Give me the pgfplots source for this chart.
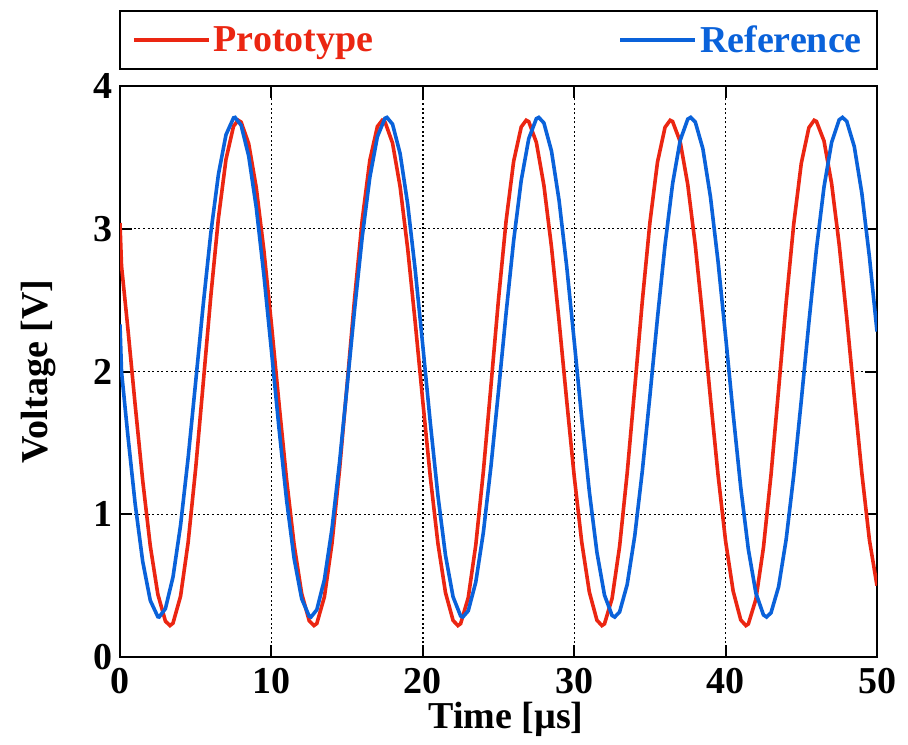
\documentclass[border=0pt]{standalone}
\usepackage{fontspec}
\setmainfont{Liberation Serif}
\usepackage{pgfplots}
\pgfplotsset{compat=1.18}

\definecolor{protored}{RGB}{235,38,18}
\definecolor{refblue}{RGB}{10,98,218}

\newcommand{\lblfont}{\fontsize{19}{22}\selectfont\bfseries}

\begin{document}
\begin{tikzpicture}
\begin{axis}[
  name=ax,
  scale only axis,
  width=378.5pt, height=285.5pt,
  xmin=0, xmax=50, ymin=0, ymax=4,
  xtick={0,10,...,50}, ytick={0,1,2,3,4},
  xtick pos=both, ytick pos=both,
  tick align=inside,
  major tick length=6pt,
  tick style={black, line width=1pt},
  axis line style={black, line width=1pt},
  grid=major,
  major grid style={black, line width=0.7pt, dash pattern=on 1pt off 1.3pt},
  /pgf/number format/assume math mode=true,
  tick label style={font=\lblfont},
  xticklabel style={yshift=-2pt},
  xlabel={Time [µs]},
  ylabel={Voltage [V]},
  label style={font=\lblfont},
  xlabel style={at={(axis description cs:0.51,-0.11)}, anchor=center},
  ylabel style={at={(axis description cs:-0.107,0.5)}, anchor=center},
  legend columns=2,
  legend cell align=left,
  legend image code/.code={\draw[#1] (0pt,0pt) -- (37.5pt,0pt);},
  legend style={
    at={(axis description cs:0.5,1.028)}, anchor=south,
    draw=black, line width=1pt,
    inner xsep=6pt, inner ysep=6pt,
    font=\lblfont,
    nodes={inner xsep=1.5pt, inner ysep=1pt},
    /tikz/every even column/.append style={column sep=121pt},
  },
]

% Prototype output (red)
\addplot[protored, line width=1.8pt] coordinates {
(0,3.04) (0.1,2.74) (0.5,2.322) (1.0,1.768) (1.5,1.236) (2.0,0.778) (2.5,0.439)
(3.0,0.251) (3.3,0.22) (3.5,0.237) (4.0,0.426) (4.5,0.803) (5.0,1.323)
(5.5,1.922) (6.0,2.530) (6.5,3.073) (7.0,3.486) (7.5,3.719) (7.81,3.76)
(8.0,3.747) (8.5,3.596) (9.0,3.288) (9.5,2.852) (10.0,2.333) (10.5,1.779)
(11.0,1.246) (11.5,0.787) (12.0,0.444) (12.5,0.253) (12.81,0.22)
(13.0,0.235) (13.5,0.421) (14.0,0.794) (14.5,1.311) (15.0,1.910)
(15.5,2.518) (16.0,3.063) (16.5,3.479) (17.0,3.716) (17.32,3.76)
(17.5,3.749) (18.0,3.601) (18.5,3.295) (19.0,2.862) (19.5,2.343)
(20.0,1.790) (20.5,1.257) (21.0,0.795) (21.5,0.450) (22.0,0.256) (22.32,0.22)
(22.5,0.234) (23.0,0.415) (23.5,0.785) (24.0,1.300) (24.5,1.898)
(25.0,2.506) (25.5,3.053) (26.0,3.472) (26.5,3.713) (26.83,3.76)
(27.0,3.750) (27.5,3.605) (28.0,3.303) (28.5,2.872) (29.0,2.354)
(29.5,1.801) (30.0,1.267) (30.5,0.803) (31.0,0.455) (31.5,0.258) (31.83,0.22)
(32.0,0.232) (32.5,0.409) (33.0,0.776) (33.5,1.289) (34.0,1.885)
(34.5,2.494) (35.0,3.043) (35.5,3.466) (36.0,3.711) (36.34,3.76)
(36.5,3.751) (37.0,3.610) (37.5,3.310) (38.0,2.882) (38.5,2.365)
(39.0,1.812) (39.5,1.277) (40.0,0.811) (40.5,0.461) (41.0,0.260) (41.34,0.22)
(41.5,0.231) (42.0,0.404) (42.5,0.767) (43.0,1.277) (43.5,1.873)
(44.0,2.483) (44.5,3.033) (45.0,3.459) (45.5,3.708) (45.85,3.76)
(46.0,3.752) (46.5,3.615) (47.0,3.318) (47.5,2.891) (48.0,2.376)
(48.5,1.823) (49.0,1.287) (49.5,0.819) (50.0,0.50)
};
\addlegendentry{\textcolor{protored}{Prototype}}

% Reference signal (blue)
\addplot[refblue, line width=1.8pt] coordinates {
(0,2.33) (0.1,2.00) (0.5,1.572) (1.0,1.074) (1.5,0.669) (2.0,0.396)
(2.5,0.282) (2.585,0.28) (3.0,0.339) (3.5,0.560) (4.0,0.923) (4.5,1.395)
(5.0,1.929) (5.5,2.472) (6.0,2.972) (6.5,3.380) (7.0,3.658) (7.5,3.777)
(7.6,3.78) (8.0,3.725) (8.5,3.509) (9.0,3.149) (9.5,2.680) (10.0,2.148)
(10.5,1.604) (11.0,1.102) (11.5,0.690) (12.0,0.408) (12.5,0.285)
(12.615,0.28) (13.0,0.331) (13.5,0.542) (14.0,0.898) (14.5,1.364)
(15.0,1.896) (15.5,2.440) (16.0,2.944) (16.5,3.359) (17.0,3.645)
(17.5,3.774) (17.63,3.78) (18.0,3.733) (18.5,3.527) (19.0,3.174)
(19.5,2.711) (20.0,2.181) (20.5,1.636) (21.0,1.130) (21.5,0.711)
(22.0,0.421) (22.5,0.287) (22.645,0.28) (23.0,0.323) (23.5,0.525)
(24.0,0.873) (24.5,1.334) (25.0,1.863) (25.5,2.407) (26.0,2.916)
(26.5,3.338) (27.0,3.632) (27.5,3.771) (27.66,3.78) (28.0,3.741)
(28.5,3.544) (29.0,3.199) (29.5,2.741) (30.0,2.214) (30.5,1.669)
(31.0,1.159) (31.5,0.734) (32.0,0.434) (32.5,0.291) (32.675,0.28)
(33.0,0.316) (33.5,0.508) (34.0,0.849) (34.5,1.304) (35.0,1.829)
(35.5,2.375) (36.0,2.887) (36.5,3.316) (37.0,3.619) (37.5,3.768)
(37.69,3.78) (38.0,3.747) (38.5,3.560) (39.0,3.223) (39.5,2.771)
(40.0,2.247) (40.5,1.702) (41.0,1.188) (41.5,0.756) (42.0,0.448)
(42.5,0.295) (42.705,0.28) (43.0,0.310) (43.5,0.492) (44.0,0.824)
(44.5,1.274) (45.0,1.797) (45.5,2.342) (46.0,2.858) (46.5,3.293)
(47.0,3.604) (47.5,3.763) (47.72,3.78) (48.0,3.753) (48.5,3.576)
(49.0,3.248) (49.5,2.802) (50.0,2.280)
};
\addlegendentry{\textcolor{refblue}{Reference}}

\end{axis}
% page frame around the axis
\path ([xshift=-60pt,yshift=-43.5pt]ax.south west) rectangle ([xshift=15.5pt,yshift=43pt]ax.north east);
\end{tikzpicture}
\end{document}
